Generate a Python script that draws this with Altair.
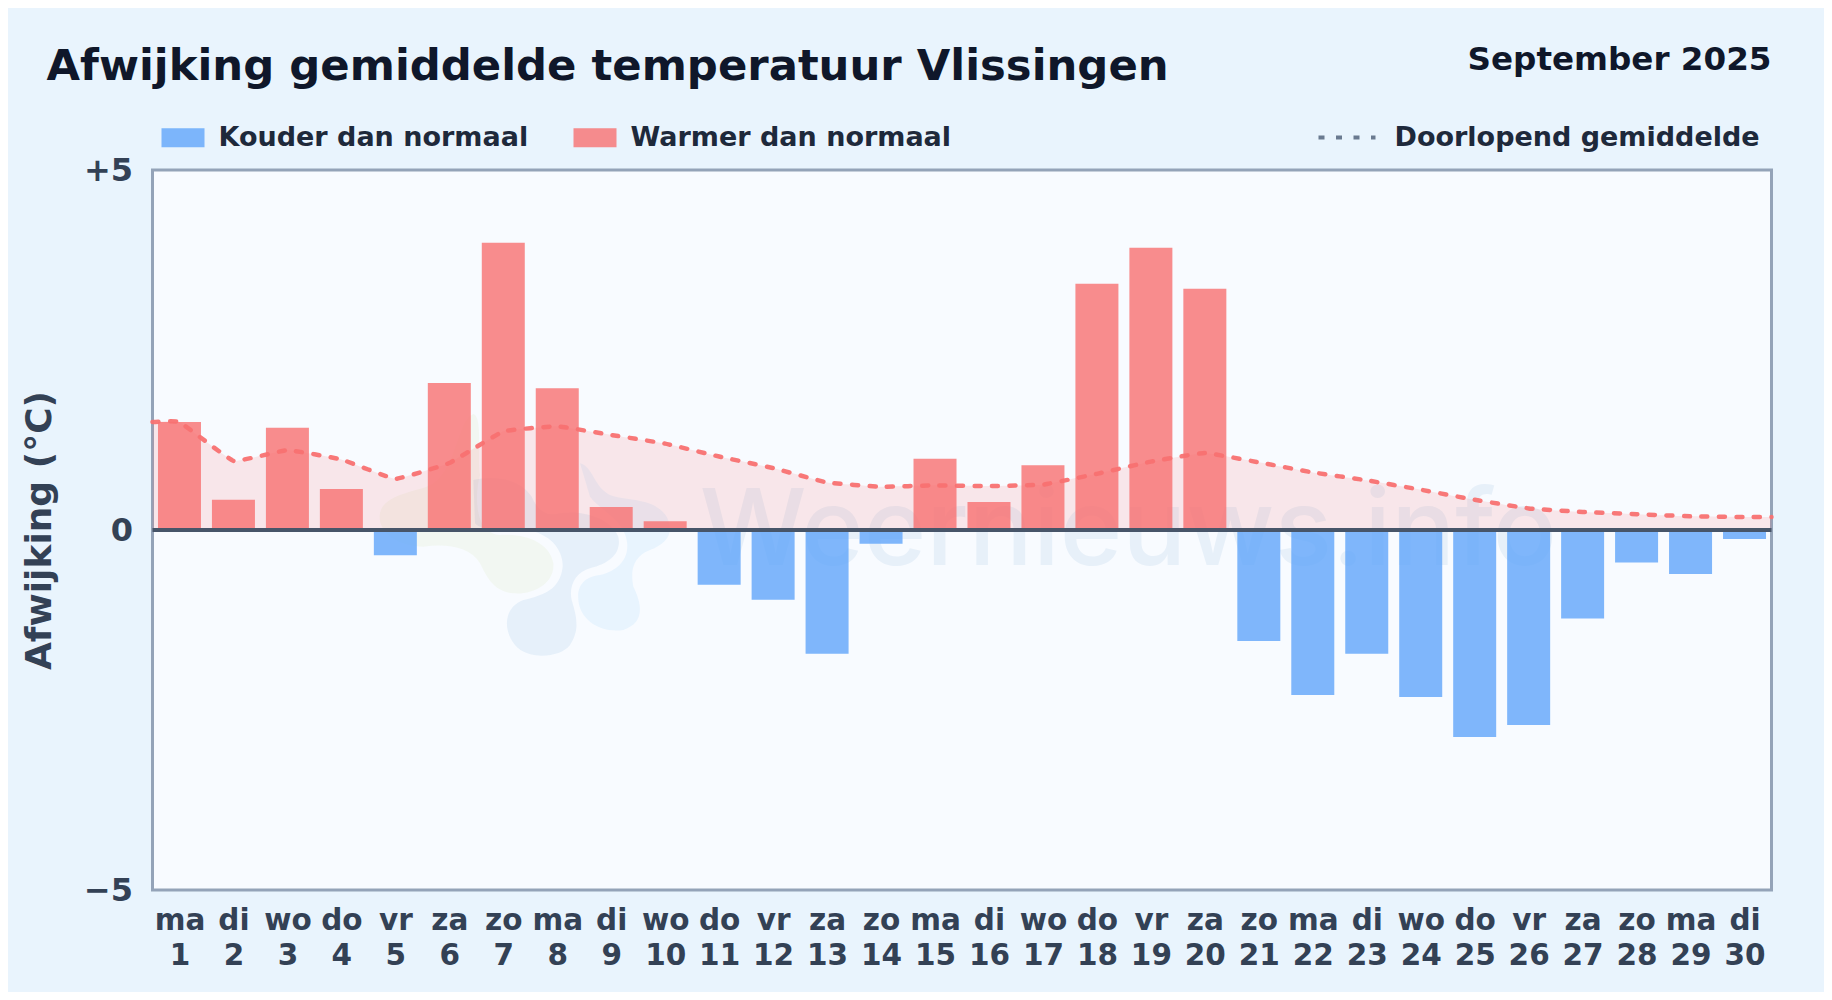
import json
import re
import altair as alt
import pandas as pd

DAYS = list(range(1, 31))
WEEKDAYS = ["ma", "di", "wo", "do", "vr", "za", "zo", "ma", "di", "wo", "do", "vr", "za", "zo", "ma",
            "di", "wo", "do", "vr", "za", "zo", "ma", "di", "wo", "do", "vr", "za", "zo", "ma", "di"]
ANOMALY = [1.50, 0.42, 1.42, 0.57, -0.35, 2.04, 3.99, 1.97, 0.32, 0.12,
           -0.76, -0.97, -1.72, -0.19, 0.99, 0.39, 0.90, 3.42, 3.92, 3.35,
           -1.54, -2.29, -1.72, -2.32, -2.875, -2.71, -1.23, -0.45, -0.61, -0.125]
LINE_X = [0.5] + DAYS + [30.5]
LINE_Y = [1.50, 1.50, 0.96, 1.11, 0.98, 0.71, 0.93, 1.37, 1.44, 1.32, 1.20,
          1.02, 0.86, 0.66, 0.60, 0.62, 0.61, 0.63, 0.78, 0.95, 1.07,
          0.94, 0.80, 0.69, 0.56, 0.42, 0.30, 0.25, 0.22, 0.19, 0.18, 0.18]
COLD = "Kouder dan normaal"
WARM = "Warmer dan normaal"
LINE_NAME = "Doorlopend gemiddelde"
TITLE = "Afwijking gemiddelde temperatuur Vlissingen"
PERIOD = "September 2025"
WATERMARK = "Weernieuws.info"

FONT = "DejaVu Sans"

bars = pd.DataFrame({"dag": DAYS, "afwijking": ANOMALY,
                     "soort": [WARM if v >= 0 else COLD for v in ANOMALY]})
running = pd.DataFrame({"dag": LINE_X, "gemiddelde": LINE_Y, "naam": LINE_NAME})

x_scale = alt.Scale(domain=[0.5, 30.5], nice=False, zero=False, padding=0)
y_scale = alt.Scale(domain=[-5, 5], nice=False)

x_enc = alt.X("dag:Q", scale=x_scale, title=None,
              axis=alt.Axis(values=DAYS, format="d", grid=False, domain=False, ticks=False,
                            labelFontSize=29.5, labelFont=FONT, labelFontWeight="bold", labelColor="#334155",
                            labelPadding=16, labelLineHeight=35, labelOverlap=False, labelFlush=False,
                            labelBound=False, labelBaseline="top",
                            labelExpr="[" + json.dumps(WEEKDAYS) + "[datum.value-1], datum.label]"))
y_enc = alt.Y("afwijking:Q", scale=y_scale, stack=None,
              axis=alt.Axis(values=[-5, 0, 5], grid=False, domain=False, ticks=False,
                            labelFontSize=32, labelFont=FONT, labelFontWeight="bold", labelColor="#334155",
                            labelPadding=20, labelOverlap=False, labelFlush=False, labelBound=False,
                            labelExpr="datum.value > 0 ? '+' + datum.value : datum.value < 0 ? '\u2212' + abs(datum.value) : '0'",
                            title="Afwijking (°C)", titleFontSize=36, titleFont=FONT, titleFontWeight="bold",
                            titleColor="#334155", titleX=-94, titleY=360, titleAlign="center"))


def rel(path, cx=480, cy=390):
    """Shift a path drawn on a 3x sketch so that (cx, cy) becomes its anchor."""
    nums = iter(range(10 ** 6))
    def sub(m):
        i = next(nums)
        return str(float(m.group()) - (cx if i % 2 == 0 else cy))
    return re.sub(r"-?\d+(?:\.\d+)?", sub, path)


BLOB_YELLOW = rel("M60 340 C70 290 140 280 200 260 C290 230 290 60 340 42 C370 50 350 180 360 225 C345 280 340 400 420 405 C500 400 570 430 580 490 C585 550 520 585 460 580 C400 575 380 530 360 490 C330 440 260 430 190 440 C120 440 50 400 60 340 Z")
BLOB_GREY = rel("M340 240 C400 225 480 235 515 290 C535 335 560 350 600 340 C660 330 750 350 775 410 C785 460 750 490 690 505 C650 515 625 555 635 600 C650 650 660 690 630 735 C600 775 500 780 465 735 C425 685 435 620 490 600 C550 585 600 570 608 500 C610 450 570 400 500 390 C440 380 370 400 345 370 Z")
BLOB_BLUE = rel("M660 190 C700 200 700 260 750 285 C800 305 880 290 920 350 C945 400 920 430 870 450 C820 470 810 510 820 560 C850 620 850 670 790 690 C720 700 660 660 655 600 C650 550 680 530 720 525 C780 510 810 470 800 420 C790 360 720 330 690 290 Z")

anchor = pd.DataFrame({"dag": [7.31], "afwijking": [0]})
blob_x = alt.X("dag:Q", scale=x_scale)
blob_y = alt.Y("afwijking:Q", scale=y_scale)


def blob(path, colour, op):
    return alt.Chart(anchor).mark_point(shape=path, filled=True, size=4 / 9, fill=colour,
                                        fillOpacity=op, strokeOpacity=0, opacity=1).encode(x=blob_x, y=blob_y)


logo = alt.layer(blob(BLOB_YELLOW, "#a3c94a", 0.07), blob(BLOB_GREY, "#3b82c4", 0.09), blob(BLOB_BLUE, "#38a8f0", 0.08))

mark_text = alt.Chart(pd.DataFrame({"dag": [10.64], "afwijking": [-0.486], "t": [WATERMARK]})).mark_text(
    font="Inter", fontSize=106.5, fontWeight=500, align="left", baseline="alphabetic", color="#3b82c4", opacity=0.085
).encode(x=blob_x, y=blob_y, text="t:N")

area = alt.Chart(running).mark_area(interpolate="cardinal", tension=0.75, color="#f87171", opacity=0.15).encode(
    x=alt.X("dag:Q", scale=x_scale),
    y=alt.Y("gemiddelde:Q", scale=y_scale, stack=None))

bar_layer = alt.Chart(bars).mark_bar(size=43, orient="vertical", opacity=0.8).encode(
    x=x_enc, y=y_enc,
    color=alt.Color("soort:N", scale=alt.Scale(domain=[COLD, WARM], range=["#60a5fa", "#f87171"]),
                    legend=alt.Legend(orient="none", legendX=9, legendY=-54, direction="horizontal", columns=2,
                                      title=None, symbolType="M-1,-0.44H1V0.44H-1Z", symbolSize=1849,
                                      symbolStrokeWidth=0, labelFontSize=27, labelFont=FONT,
                                      labelFontWeight="bold", labelColor="#1e293b", labelOffset=14,
                                      columnPadding=45, labelLimit=400)))

line = alt.Chart(running).mark_line(interpolate="cardinal", tension=0.75, strokeWidth=4.5, strokeCap="round", opacity=0.95, color="#f87171").encode(
    x=alt.X("dag:Q", scale=x_scale),
    y=alt.Y("gemiddelde:Q", scale=y_scale),
    strokeDash=alt.StrokeDash("naam:N", scale=alt.Scale(domain=[LINE_NAME], range=[[6, 11.5]]),
                              legend=alt.Legend(orient="none", legendX=1164, legendY=-63, title=None, symbolType="stroke",
                                                symbolSize=3249, symbolStrokeColor="#64748b", symbolStrokeWidth=4,
                                                labelFontSize=27, labelFont=FONT,
                                                labelFontWeight="bold", labelColor="#1e293b", labelOffset=17, labelLimit=500)))

zero = alt.Chart(pd.DataFrame({"afwijking": [0]})).mark_rule(color="#475569", strokeWidth=4).encode(
    y=alt.Y("afwijking:Q", scale=y_scale))

period = alt.Chart(pd.DataFrame({"t": [PERIOD]})).mark_text(
    font=FONT, fontSize=32.6, fontWeight="bold", color="#0f172a", align="right", baseline="alphabetic"
).encode(x=alt.value(1619), y=alt.value(-100), text="t:N")

chart = alt.layer(logo, mark_text, area, bar_layer, line, zero, period).properties(
    width=1619, height=720,
    padding={"left": 144.5, "top": 162, "right": 52.5, "bottom": 102},
    autosize=alt.AutoSizeParams(type="none"),
    background="#e9f4fd",
    title=alt.TitleParams(TITLE, anchor="start", frame="group", font=FONT, fontSize=43.35, fontWeight="bold",
                          color="#0f172a", dx=-106, offset=-45),
).configure_view(fill="#f8fbff", stroke="#94a3b8", strokeWidth=3)

chart.save("out.html", embed_options={"renderer": "svg", "actions": False})
